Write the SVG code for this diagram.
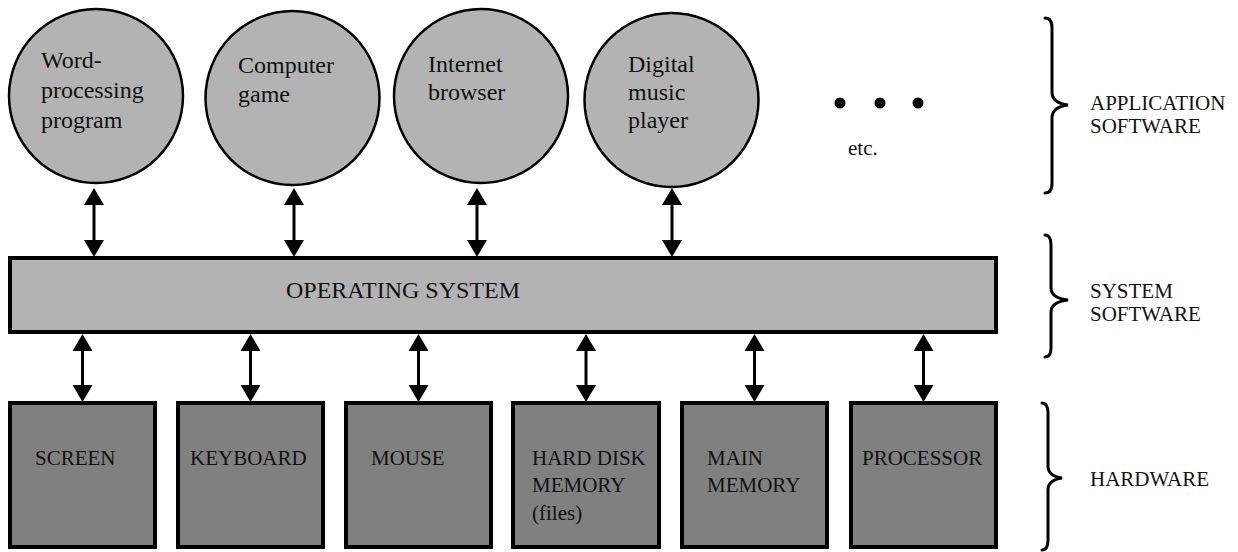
<svg xmlns="http://www.w3.org/2000/svg" width="1238" height="552" viewBox="0 0 1238 552">
<defs>
<style>
.app{fill:#b3b3b3;stroke:#000;stroke-width:2.5}
.os{fill:#b3b3b3;stroke:#000;stroke-width:4}
.hw{fill:#808080;stroke:#000;stroke-width:4}
.t24{font-family:"Liberation Serif","Times New Roman",serif;font-size:24px;fill:#111}
.t21{font-family:"Liberation Serif","Times New Roman",serif;font-size:21px;fill:#111}
.conn{stroke:#000;stroke-width:3;fill:none;marker-start:url(#ah);marker-end:url(#ah)}
.brace{stroke:#000;stroke-width:3;fill:none;stroke-linecap:round}
</style>
<marker id="ah" viewBox="0 0 17 20" markerWidth="17" markerHeight="20" markerUnits="userSpaceOnUse" refX="14" refY="10" orient="auto-start-reverse">
<path d="M0,0 L17,10 L0,20 Z" fill="#000"/>
</marker>
</defs>
<rect width="1238" height="552" fill="#fff"/>

<g id="connectors">
<line class="conn" x1="94" y1="191" x2="94" y2="254"/>
<line class="conn" x1="294" y1="191" x2="294" y2="254"/>
<line class="conn" x1="477" y1="191" x2="477" y2="254"/>
<line class="conn" x1="672" y1="191" x2="672" y2="254"/>
<line class="conn" x1="82.5" y1="337" x2="82.5" y2="399"/>
<line class="conn" x1="250.5" y1="337" x2="250.5" y2="399"/>
<line class="conn" x1="418.5" y1="337" x2="418.5" y2="399"/>
<line class="conn" x1="586" y1="337" x2="586" y2="399"/>
<line class="conn" x1="754.5" y1="337" x2="754.5" y2="399"/>
<line class="conn" x1="923.5" y1="337" x2="923.5" y2="399"/>
</g>

<g id="word-processing">
<circle class="app" cx="96" cy="96" r="87"/>
<text class="t24" x="41" y="68">Word-</text>
<text class="t24" x="41" y="98">processing</text>
<text class="t24" x="41" y="128">program</text>
</g>
<g id="computer-game">
<circle class="app" cx="292.5" cy="98" r="87"/>
<text class="t24" x="238" y="73">Computer</text>
<text class="t24" x="238" y="102">game</text>
</g>
<g id="internet-browser">
<circle class="app" cx="481" cy="96" r="87"/>
<text class="t24" x="428" y="72">Internet</text>
<text class="t24" x="428" y="100">browser</text>
</g>
<g id="digital-music-player">
<circle class="app" cx="671.5" cy="100" r="87"/>
<text class="t24" x="628" y="72">Digital</text>
<text class="t24" x="628" y="100">music</text>
<text class="t24" x="628" y="128">player</text>
</g>
<g id="etc">
<circle cx="840" cy="103" r="5.5" fill="#000"/>
<circle cx="880" cy="103" r="5.5" fill="#000"/>
<circle cx="918" cy="103" r="5.5" fill="#000"/>
<text class="t21" x="848" y="155">etc.</text>
</g>

<g id="operating-system">
<rect class="os" x="10" y="258" width="986" height="74"/>
<text class="t24" x="286" y="298">OPERATING SYSTEM</text>
</g>

<g id="screen">
<rect class="hw" x="10" y="403" width="145" height="144"/>
<text class="t21" x="35" y="465">SCREEN</text>
</g>
<g id="keyboard">
<rect class="hw" x="178" y="403" width="145" height="144"/>
<text class="t21" x="190" y="465">KEYBOARD</text>
</g>
<g id="mouse">
<rect class="hw" x="346" y="403" width="145" height="144"/>
<text class="t21" x="371" y="465">MOUSE</text>
</g>
<g id="hard-disk">
<rect class="hw" x="513" y="403" width="146" height="144"/>
<text class="t21" x="532" y="465">HARD DISK</text>
<text class="t21" x="532" y="492">MEMORY</text>
<text class="t21" x="532" y="520">(files)</text>
</g>
<g id="main-memory">
<rect class="hw" x="682" y="403" width="145" height="144"/>
<text class="t21" x="707" y="465">MAIN</text>
<text class="t21" x="707" y="492">MEMORY</text>
</g>
<g id="processor">
<rect class="hw" x="851" y="403" width="145" height="144"/>
<text class="t21" x="862" y="465">PROCESSOR</text>
</g>

<g id="application-software">
<path class="brace" d="M1045,18 Q1052,18 1052,28 L1052,92 Q1052,103 1068,105 Q1052,107 1052,118 L1052,183 Q1052,193 1045,193"/>
<text class="t21" x="1090" y="110">APPLICATION</text>
<text class="t21" x="1090" y="133">SOFTWARE</text>
</g>
<g id="system-software">
<path class="brace" d="M1045,235 Q1051,235 1051,245 L1051,288 Q1051,298 1068,300 Q1051,302 1051,312 L1051,348 Q1051,357 1045,357"/>
<text class="t21" x="1090" y="298">SYSTEM</text>
<text class="t21" x="1090" y="321">SOFTWARE</text>
</g>
<g id="hardware">
<path class="brace" d="M1042,403 Q1048,403 1048,413 L1048,466 Q1048,476 1062,478 Q1048,480 1048,490 L1048,540 Q1048,550 1042,550"/>
<text class="t21" x="1090" y="486">HARDWARE</text>
</g>
</svg>
